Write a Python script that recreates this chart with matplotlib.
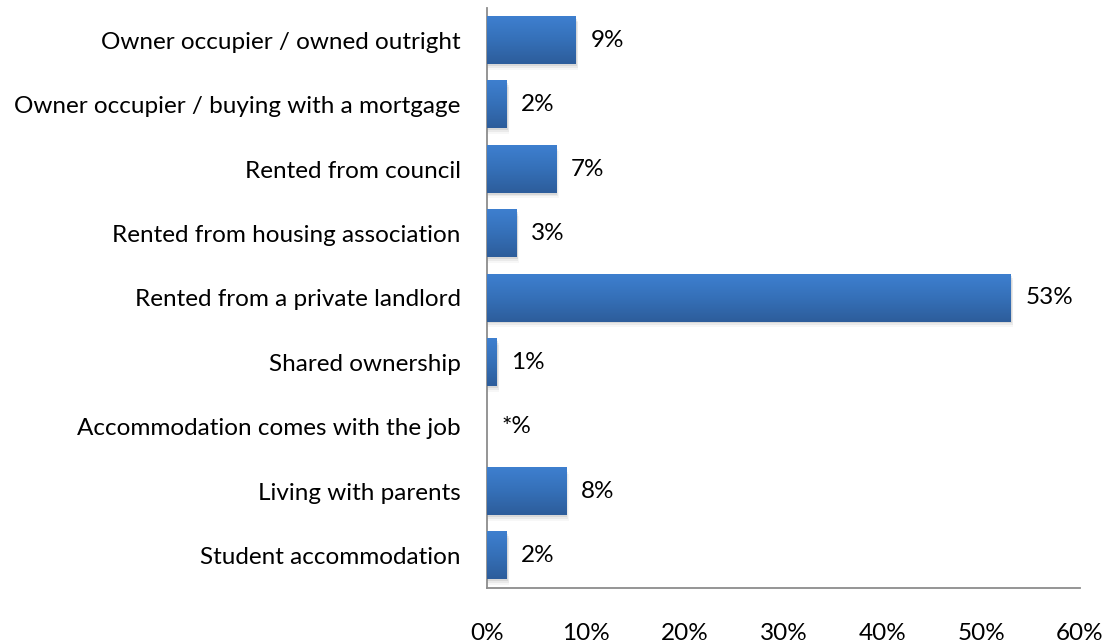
import numpy as np
import matplotlib
matplotlib.use("Agg")
import matplotlib.pyplot as plt
from matplotlib.colors import LinearSegmentedColormap

categories = [
    "Owner occupier / owned outright",
    "Owner occupier / buying with a mortgage",
    "Rented from council",
    "Rented from housing association",
    "Rented from a private landlord",
    "Shared ownership",
    "Accommodation comes with the job",
    "Living with parents",
    "Student accommodation",
]
values = [9, 2, 7, 3, 53, 1, 0, 8, 2]
value_labels = ["9%", "2%", "7%", "3%", "53%", "1%", "*%", "8%", "2%"]
x_ticks = [0, 10, 20, 30, 40, 50, 60]
x_tick_labels = ["0%", "10%", "20%", "30%", "40%", "50%", "60%"]

plt.rcParams["font.family"] = ["Lato", "DejaVu Sans"]
FS = 17.5

fig = plt.figure(figsize=(11.10, 6.44), dpi=100)
ax = fig.add_axes([0.4387, 0.087, 0.9730 - 0.4387, 0.9876 - 0.087])

n = len(categories)
y = np.arange(n)
bar_h = 0.73

grad = LinearSegmentedColormap.from_list("bar", ["#3e7fcf", "#3570b8", "#2d5d9b"])
gimg = np.linspace(0, 1, 64).reshape(-1, 1)

for yi, v in zip(y, values):
    if v <= 0:
        continue
    # soft drop shadow, mostly below the bar
    for k, a in enumerate([0.08, 0.05, 0.03]):
        d = 0.03 + 0.03 * k
        ax.add_patch(plt.Rectangle((0, yi - bar_h / 2 + d), v + 0.1 + 0.08 * k, bar_h,
                                   facecolor="black", alpha=a, edgecolor="none", zorder=1))
    ax.barh(yi, v, height=bar_h, color="#3570b8", edgecolor="none", zorder=2)
    ax.imshow(gimg, cmap=grad, aspect="auto", zorder=3,
              extent=(0, v, yi + bar_h / 2, yi - bar_h / 2), interpolation="bilinear")

for yi, v, lab in zip(y, values, value_labels):
    ax.annotate(lab, xy=(v, yi), xytext=(10.5, 0), textcoords="offset points",
                va="center", ha="left", fontsize=FS, color="#000000", zorder=4)

ax.set_xlim(0, 60)
ax.set_ylim(n - 0.5, -0.5)
ax.set_yticks(y)
ax.set_yticklabels(categories, fontsize=FS)
ax.set_xticks(x_ticks)
ax.set_xticklabels(x_tick_labels, fontsize=FS)
ax.tick_params(axis="y", length=0, pad=19)
ax.tick_params(axis="x", length=0, pad=25)

for s in ["top", "right"]:
    ax.spines[s].set_visible(False)
for s in ["left", "bottom"]:
    ax.spines[s].set_color("#8c8c8c")
    ax.spines[s].set_linewidth(1.3)

fig.savefig("out.png", dpi=100)
